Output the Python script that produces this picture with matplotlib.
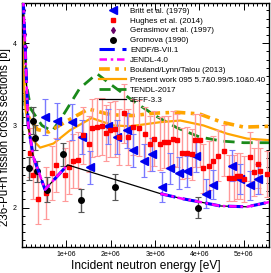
import matplotlib
matplotlib.use("Agg")
import matplotlib.pyplot as plt
import numpy as np
from matplotlib.ticker import MultipleLocator, FuncFormatter

plt.rcParams['font.family'] = ['Liberation Sans', 'DejaVu Sans']

# ---- data (energies in MeV, cross sections in b) ----
britt_e = [0.52, 0.78, 1.12, 1.35, 1.53, 1.95, 2.14, 2.36, 2.51, 2.74, 2.93, 3.15, 3.34,
           3.53, 3.72, 3.93, 4.15, 4.30, 4.73, 4.92, 5.13, 5.33]
britt_s = [3.10, 3.05, 3.04, 2.86, 2.49, 2.99, 2.86, 2.94, 2.70, 2.57, 2.65, 2.25, 2.48,
           2.42, 2.44, 2.63, 2.17, 2.28, 2.51, 2.35, 2.27, 2.35]
britt_err = [0.22, 0.22, 0.22, 0.21, 0.20, 0.21, 0.21, 0.21, 0.20, 0.20, 0.20, 0.18, 0.19,
             0.19, 0.19, 0.20, 0.18, 0.18, 0.19, 0.18, 0.18, 0.18]

hughes_e = [0.18, 0.26, 0.37, 0.55, 0.67, 0.77, 0.97, 1.06, 1.16, 1.27, 1.37, 1.50, 1.57,
            1.69, 1.80, 1.90, 1.99, 2.10, 2.18, 2.29, 2.38, 2.51, 2.64, 2.78, 2.89, 2.97,
            3.10, 3.21, 3.30, 3.40, 3.49, 3.60, 3.72, 3.83, 3.91, 4.02, 4.09, 4.21, 4.30,
            4.42, 4.55, 4.66, 4.77, 4.85, 4.92, 5.00, 5.13, 5.22, 5.31, 5.37, 5.52]
hughes_s = [2.67, 2.40, 2.10, 2.18, 2.42, 2.52, 2.40, 2.49, 2.57, 2.58, 2.88, 2.77, 2.97,
            2.98, 2.99, 2.91, 2.95, 2.96, 2.86, 3.15, 2.86, 2.98, 2.97, 2.90, 2.78, 2.84,
            2.78, 2.80, 2.80, 2.84, 2.82, 2.66, 2.67, 2.65, 2.82, 2.82, 2.48, 2.51, 2.57,
            2.63, 2.69, 2.36, 2.36, 2.38, 2.38, 2.35, 2.62, 2.43, 2.53, 2.45, 2.41]
hughes_err = [0.30, 0.30, 0.30, 0.32, 0.33, 0.33, 0.32, 0.32, 0.33, 0.34, 0.35, 0.34, 0.35,
              0.35, 0.35, 0.34, 0.34, 0.34, 0.34, 0.36, 0.34, 0.34, 0.34, 0.33, 0.33, 0.33,
              0.32, 0.32, 0.32, 0.33, 0.32, 0.31, 0.31, 0.31, 0.32, 0.32, 0.30, 0.30, 0.30,
              0.31, 0.31, 0.28, 0.28, 0.28, 0.28, 0.28, 0.30, 0.29, 0.29, 0.28, 0.28]

gerasimov_e = [0.02, 0.03, 0.04, 0.06]
gerasimov_s = [4.40, 4.21, 4.11, 3.95]

gromova_e = [0.17, 0.26, 0.29, 0.33, 0.56, 0.92, 1.33, 2.10, 3.96]
gromova_s = [2.48, 3.06, 2.85, 2.44, 2.22, 2.65, 2.09, 2.25, 2.00]
gromova_err = [0.14, 0.16, 0.15, 0.13, 0.15, 0.14, 0.14, 0.16, 0.13]

endf_e = [0.0, 0.07, 0.14, 0.26, 0.52, 1.03, np.nan, 3.12, 3.6, 4.0, 4.47, 5.07, 5.6]
endf_s = [4.9, 4.0, 3.0, 2.61, 2.22, 2.52, np.nan, 2.17, 2.11, 2.07, 2.02, 2.01, 2.07]

jeff_e = [0.0, 0.07, 0.14, 0.26, 0.52, 1.03, 3.12, 3.6, 4.0, 4.47, 5.07, 5.6]
jeff_s = [4.9, 4.0, 3.0, 2.61, 2.22, 2.52, 2.17, 2.11, 2.07, 2.02, 2.01, 2.07]

bouland_e = [0.0, 0.05, 0.15, 0.35, 0.6, 1.0, 1.5, 2.0, 2.5, 3.0, 3.5, 4.0, 4.5, 5.0, 5.6]
bouland_s = [4.6, 3.6, 3.1, 2.95, 2.92, 3.05, 3.2, 3.13, 3.12, 3.15, 3.16, 3.14, 3.04, 2.98, 2.99]

present_e = [0.0, 0.03, 0.08, 0.18, 0.41, 0.71, 1.08, 1.57, 2.06, 2.44, 3.12, 3.57, 4.09,
             4.62, 5.07, 5.6]
present_s = [4.6, 3.6, 3.2, 2.86, 2.73, 2.78, 2.94, 3.09, 3.00, 2.99, 3.04, 3.06, 3.00,
             2.90, 2.84, 2.82]

tendl_e = [0.0, 0.015, 0.1, 0.2, 0.45, 0.68, 0.9, 1.3, 1.69, 2.0, 2.5, 3.0, 3.5, 4.0, 4.5,
           5.0, 5.6]
tendl_s = [2.8, 4.6, 3.5, 3.2, 3.0, 2.93, 3.1, 3.45, 3.63, 3.5, 3.3, 3.12, 2.97, 2.86, 2.81,
           2.79, 2.79]

MeV = 1e6

fig = plt.figure(figsize=(2.71, 2.73), dpi=100)
ax = fig.add_axes([0.081, 0.095, 0.912, 0.894])

def arr(v):
    return np.asarray(v, dtype=float) * MeV

# lines
ax.plot(arr(tendl_e), tendl_s, color='#1a8a1a', ls=(0, (4, 2.5)), lw=2.0, label='TENDL-2017', zorder=2)
ax.plot(arr(bouland_e), bouland_s, color='#ffa500', ls=(0, (3, 1.5, 1, 1.5)), lw=2.6,
        label='Bouland/Lynn/Talou (2013)', zorder=2)
ax.plot(arr(present_e), present_s, color='#ffa500', ls='-', lw=1.6,
        label='Present work 095 5.7&0.99/5.10&0.40', zorder=2)

# data
ax.errorbar(arr(hughes_e), hughes_s, yerr=hughes_err, fmt='none', ecolor='#ff9a9a',
            elinewidth=1.0, capsize=2.5, capthick=0.8, zorder=3)
ax.errorbar(arr(britt_e), britt_s, yerr=britt_err, fmt='none', ecolor='#7a7aff',
            elinewidth=1.0, capsize=2.5, capthick=0.8, zorder=3)
ax.errorbar(arr(gromova_e), gromova_s, yerr=gromova_err, fmt='none', ecolor='#555555',
            elinewidth=1.0, capsize=2.5, capthick=0.8, zorder=3)

ax.plot(arr(britt_e), britt_s, ls='none', marker='<', ms=5.5, color='#0000ee',
        label='Britt et al. (1979)', zorder=4)
ax.plot(arr(hughes_e), hughes_s, ls='none', marker='s', ms=3, color='#ff0000',
        label='Hughes et al. (2014)', zorder=4)
ax.plot(arr(gerasimov_e), gerasimov_s, ls='none', marker='d', ms=3, color='#660066',
        label='Gerasimov et al. (1997)', zorder=4)
ax.plot(arr(gromova_e), gromova_s, ls='none', marker='o', ms=4, color='black',
        label='Gromova (1990)', zorder=4)

ax.plot(arr(jeff_e), jeff_s, color='black', lw=0.9, ls='-', label='JEFF-3.3', zorder=5)
ax.plot(arr(endf_e), endf_s, color='#0000ff', lw=2.2, ls=(0, (5, 2.5)), label='ENDF/B-VII.1', zorder=5)
ax.plot(arr(endf_e), endf_s, color='#ff00ff', lw=1.8, ls=(0, (3, 1.5, 1, 1.5)), label='JENDL-4.0', zorder=5)

ax.set_xlim(0, 5.57e6)
ax.set_ylim(1.52, 4.49)
ax.set_xticks([1e6, 2e6, 3e6, 4e6, 5e6])
ax.xaxis.set_major_formatter(FuncFormatter(lambda v, p: '{:.0e}'.format(v)))
ax.xaxis.set_minor_locator(MultipleLocator(1e5))
ax.set_yticks([2, 3, 4])
ax.yaxis.set_minor_locator(MultipleLocator(0.1))
ax.tick_params(which='both', direction='in', top=True, right=True, labelsize=5, width=0.7)
ax.tick_params(which='major', length=5)
ax.tick_params(which='minor', length=2.5)
ax.tick_params(axis='x', pad=3)
for s in ax.spines.values():
    s.set_linewidth(1.0)

ax.set_xlabel('Incident neutron energy [eV]', fontsize=8.6, labelpad=1)
ax.set_ylabel('236-Pu+n fission cross sections [b]', fontsize=8.3)
ax.yaxis.set_label_coords(-0.043, 0.45)

handles, labels = ax.get_legend_handles_labels()
order = ['Britt et al. (1979)', 'Hughes et al. (2014)', 'Gerasimov et al. (1997)', 'Gromova (1990)',
         'ENDF/B-VII.1', 'JENDL-4.0', 'Bouland/Lynn/Talou (2013)',
         'Present work 095 5.7&0.99/5.10&0.40', 'TENDL-2017', 'JEFF-3.3']
hmap = dict(zip(labels, handles))
leg = ax.legend([hmap[l] for l in order], order, loc='upper right', fontsize=5.8, frameon=False,
                handlelength=3.3, handletextpad=0.5, labelspacing=0.28, borderaxespad=0.35,
                borderpad=0.15)
leg.set_zorder(10)

fig.savefig('out.png', dpi=100)
